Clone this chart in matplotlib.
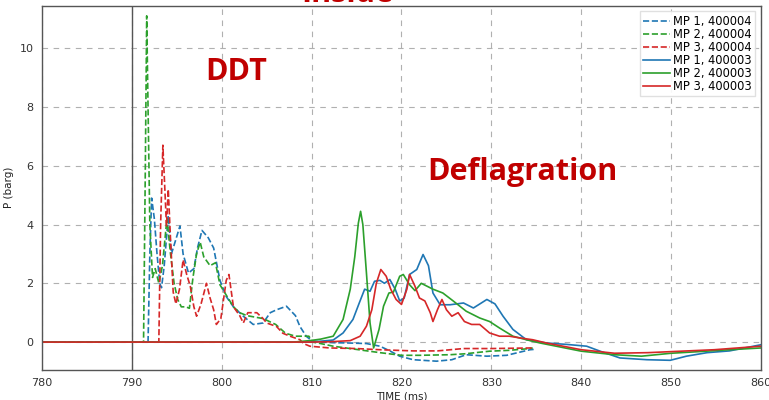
import matplotlib
matplotlib.use("Agg")
import matplotlib.pyplot as plt

# Pressure traces, P (barg) versus time (ms)
# Test 400004 (dashed): measuring points 1-3
t_mp1_04 = [780, 791.8, 792.0, 792.2, 792.5, 792.8, 793.1, 793.3, 793.6, 794.05, 794.4,
            794.8, 795.35, 795.7, 796.3, 796.9, 797.3, 797.8, 798.5, 799.1, 799.8, 800.5,
            801.3, 802.4, 803.5, 804.6, 805.4, 806.1, 807.2, 808.2, 808.7, 809.4, 810.0,
            811.0, 812.4, 814.0, 816.1, 817.6, 818.7, 819.8, 821.3, 823.9, 825.6, 827.2,
            829.5, 831.7, 834.3, 834.7]
p_mp1_04 = [0, 0, 3.0, 4.9, 4.2, 3.0, 2.0, 1.85, 2.6, 4.3, 3.0,
            3.4, 3.95, 3.0, 2.35, 2.5, 3.2, 3.8, 3.55, 3.2, 2.1, 1.55,
            1.2, 0.88, 0.6, 0.65, 1.0, 1.1, 1.22, 0.9, 0.53, 0.2, 0.05,
            0.0, -0.02, -0.03, -0.05, -0.14, -0.3, -0.48, -0.6, -0.65, -0.6, -0.43,
            -0.48, -0.45, -0.26, -0.25]

t_mp2_04 = [780, 791.3, 791.5, 791.65, 791.8, 792.0, 792.3, 792.6, 793.0, 793.4, 793.9,
            794.3, 794.7, 795.1, 795.5, 796.0, 796.4, 796.8, 797.2, 797.6, 798.0, 798.7,
            799.3, 799.8, 800.5, 801.3, 802.0, 802.8, 803.7, 804.6, 806.0, 807.1, 808.2,
            809.7, 810.1, 811.0, 812.4, 815.0, 817.6, 820.0, 822.0, 825.4, 827.0, 829.8,
            832.0, 834.3, 834.6]
p_mp2_04 = [0, 0, 6.0, 11.1, 8.0, 4.0, 2.2, 2.5, 2.0, 2.6, 4.2,
            3.0, 2.0, 1.45, 1.2, 1.2, 1.15, 2.2, 3.0, 3.4, 2.9, 2.6,
            2.7, 1.95, 1.6, 1.2, 1.0, 0.9, 0.85, 0.8, 0.6, 0.3, 0.2,
            0.2, 0.0, -0.05, -0.14, -0.25, -0.36, -0.45, -0.45, -0.43, -0.4, -0.31,
            -0.28, -0.22, -0.2]

t_mp3_04 = [780, 793.0, 793.2, 793.45, 793.7, 793.85, 794.05, 794.3, 794.6, 794.9, 795.3,
            795.7, 796.1, 796.5, 796.9, 797.2, 797.7, 798.3, 798.7, 799.1, 799.4, 799.9,
            800.5, 800.8, 801.3, 802.0, 802.4, 802.9, 803.9, 804.6, 805.0, 806.1, 806.8,
            807.6, 808.7, 809.1, 809.8, 812.0, 815.0, 817.6, 821.3, 824.0, 826.9, 830.0,
            834.4, 834.7]
p_mp3_04 = [0, 0, 4.0, 6.7, 5.0, 3.95, 5.2, 3.5, 1.7, 1.3, 1.8,
            2.8, 2.3, 1.9, 1.2, 0.88, 1.3, 2.0, 1.5, 1.1, 0.6, 0.8,
            2.1, 2.3, 1.2, 0.9, 0.65, 1.0, 1.0, 0.8, 0.65, 0.53, 0.3,
            0.2, 0.08, -0.05, -0.14, -0.2, -0.22, -0.26, -0.3, -0.3, -0.22, -0.22,
            -0.2, -0.2]

# Test 400003 (solid): measuring points 1-3
t_mp1_03 = [780, 808, 809.8, 811, 812.4, 813.5, 814.6, 815.3, 815.9, 816.5, 817.0,
            817.6, 818.1, 818.7, 819.3, 819.8, 820.3, 820.9, 821.7, 822.4, 823.0, 823.5,
            824.3, 825.4, 826.9, 828.0, 829.5, 830.4, 831.3, 832.4, 833.9, 836.1, 838.4,
            840.6, 842.1, 844.3, 847.3, 849.9, 851.7, 854.0, 856.5, 860]
p_mp1_03 = [0, 0, 0.0, 0.03, 0.07, 0.31, 0.77, 1.33, 1.8, 1.73, 2.07,
            2.1, 2.0, 2.13, 1.8, 1.4, 1.5, 2.3, 2.47, 2.98, 2.6, 1.67,
            1.27, 1.27, 1.33, 1.16, 1.45, 1.3, 0.88, 0.43, 0.08, -0.03, -0.08,
            -0.14, -0.31, -0.54, -0.6, -0.62, -0.48, -0.36, -0.3, -0.09]

t_mp2_03 = [780, 808, 809.8, 811, 812.4, 813.5, 814.3, 814.8, 815.2, 815.45, 815.7,
            816.1, 816.5, 816.9, 817.5, 818.0, 818.6, 819.1, 819.8, 820.2, 820.9, 821.5,
            822.2, 823.5, 824.6, 825.75, 827.2, 828.7, 829.8, 830.9, 832.4, 833.9, 835.4,
            840.0, 843.7, 846.7, 850, 852.8, 856.5, 860]
p_mp2_03 = [0, 0, 0.05, 0.1, 0.2, 0.77, 1.8, 2.9, 4.05, 4.45, 4.0,
            2.35, 0.65, -0.2, 0.43, 1.22, 1.67, 1.7, 2.24, 2.3, 1.95, 1.75,
            2.0, 1.8, 1.67, 1.4, 1.05, 0.82, 0.7, 0.48, 0.2, 0.08, -0.03,
            -0.31, -0.43, -0.48, -0.38, -0.33, -0.26, -0.2]

t_mp3_03 = [780, 810, 812, 814.3, 815.4, 816.1, 816.7, 817.2, 817.7, 818.3, 818.8,
            819.4, 820.0, 820.6, 820.9, 821.5, 822.0, 822.6, 823.2, 823.5, 824.0, 824.5,
            825.0, 825.6, 826.3, 827.0, 827.8, 828.7, 829.8, 830.9, 832.0, 833.2, 834.6,
            836.1, 840.0, 843.7, 847.4, 851.1, 854.8, 860]
p_mp3_03 = [0, 0, 0.01, 0.05, 0.2, 0.54, 1.1, 2.0, 2.47, 2.24, 1.8,
            1.45, 1.28, 1.8, 2.3, 1.9, 1.5, 1.4, 1.0, 0.7, 1.1, 1.45,
            1.1, 0.88, 1.0, 0.7, 0.6, 0.6, 0.31, 0.2, 0.2, 0.14, 0.08,
            -0.03, -0.26, -0.38, -0.36, -0.31, -0.26, -0.14]

x_ticks = [780, 790, 800, 810, 820, 830, 840, 850, 860]
y_ticks = [0, 2, 4, 6, 8, 10]

BLUE, GREEN, RED = "#1f77b4", "#2ca02c", "#d62728"
ANNOT = "#c00000"

fig = plt.figure(figsize=(7.69, 4.0), dpi=100)
ax = fig.add_axes([0.0546, 0.075, 0.935, 0.911])

lw = 1.2
ax.plot(t_mp1_04, p_mp1_04, "--", color=BLUE, lw=lw, label="MP 1, 400004")
ax.plot(t_mp2_04, p_mp2_04, "--", color=GREEN, lw=lw, label="MP 2, 400004")
ax.plot(t_mp3_04, p_mp3_04, "--", color=RED, lw=lw, label="MP 3, 400004")
ax.plot(t_mp1_03, p_mp1_03, "-", color=BLUE, lw=lw, label="MP 1, 400003")
ax.plot(t_mp2_03, p_mp2_03, "-", color=GREEN, lw=lw, label="MP 2, 400003")
ax.plot(t_mp3_03, p_mp3_03, "-", color=RED, lw=lw, label="MP 3, 400003")

ax.axvline(790, color="#555555", lw=1.0, zorder=1)

ax.set_xlim(780, 860)
ax.set_ylim(-0.95, 11.45)
ax.set_xticks(x_ticks)
ax.set_yticks(y_ticks)
ax.grid(True, linestyle=(0, (5, 5)), color="#b0b0b0", lw=0.8)
ax.set_axisbelow(True)
ax.tick_params(labelsize=8, length=0, pad=6, colors="#333333")
for s in ax.spines.values():
    s.set_color("#555555")
    s.set_linewidth(1.0)

ax.set_xlabel("TIME (ms)", fontsize=7.5, color="#222222", labelpad=2)
ax.set_ylabel("P (barg)", fontsize=7.5, color="#222222", labelpad=4)

leg = ax.legend(loc="upper right", fontsize=8.3, handlelength=2.3,
                labelspacing=0.0, borderpad=0.3, handletextpad=0.3,
                borderaxespad=0.5, framealpha=0.9, fancybox=False,
                edgecolor="#dddddd")

ax.text(801.6, 9.2, "DDT", color=ANNOT, fontsize=22, fontweight="bold",
        family="Open Sans", ha="center", va="center")
ax.text(833.4, 5.8, "Deflagration", color=ANNOT, fontsize=22, fontweight="bold",
        family="Open Sans", ha="center", va="center")
fig.text(0.452, 0.995, "Inside", color=ANNOT, fontsize=22, fontweight="bold",
         family="Open Sans", ha="center", va="baseline")

fig.savefig("out.png", dpi=100)
